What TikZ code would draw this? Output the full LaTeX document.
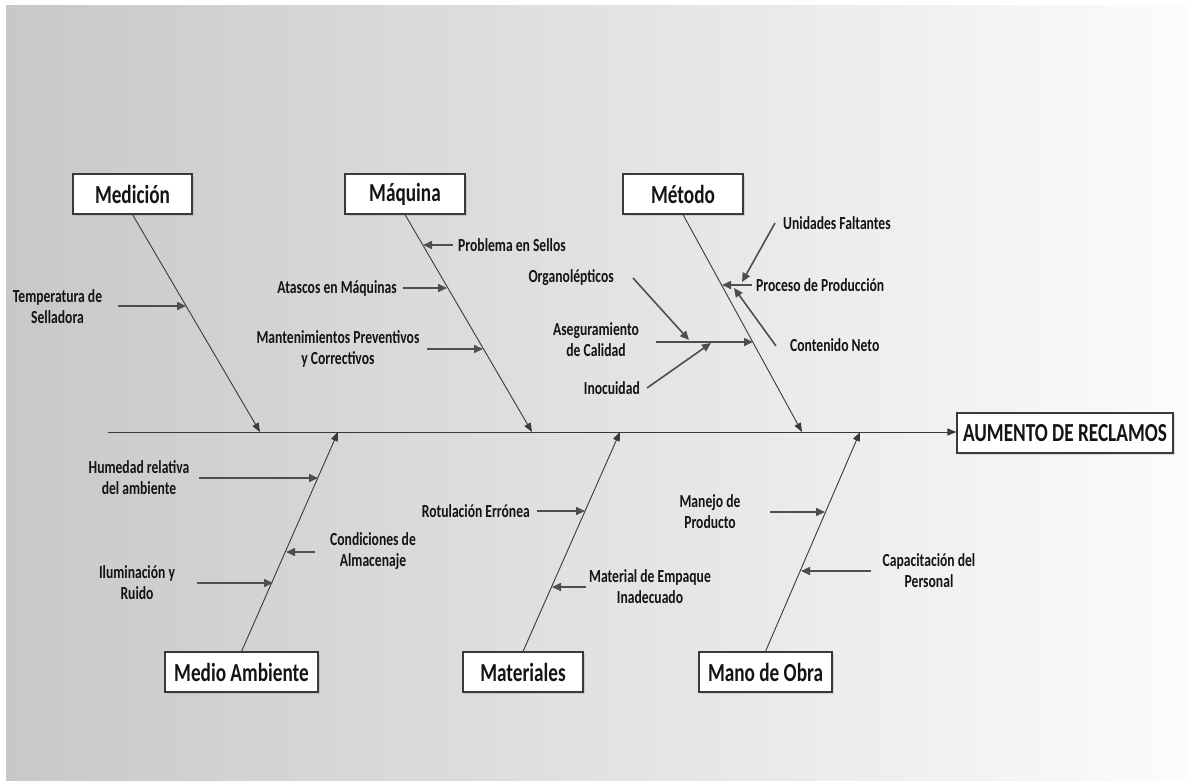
\documentclass[tikz,border=0pt]{standalone}
\usepackage{fontspec}
\setmainfont{Carlito}[FakeStretch=0.74]
\usetikzlibrary{arrows.meta,shadows}
\definecolor{ink}{HTML}{3A3A3A}
\definecolor{cause}{HTML}{4E4E4E}
\definecolor{bgleft}{HTML}{C8C8C8}
\definecolor{bgright}{HTML}{FCFCFC}
\definecolor{txt}{HTML}{141414}
\begin{document}
\begin{tikzpicture}[x=1pt,y=-1pt,
  catbox/.style={draw=ink, line width=1.1pt, fill=white, minimum height=40pt,
    inner sep=0pt, text=txt, font=\bfseries\fontsize{26}{30}\selectfont,
    drop shadow={opacity=0.25, shadow xshift=1.5pt, shadow yshift=-1.5pt}},
  lbl/.style={font=\bfseries\fontsize{18.4}{21}\selectfont, inner sep=0pt,
    align=center, text=txt},
  bone/.style={draw=ink, line width=0.9pt, -{Triangle[length=9pt,width=7pt]}},
  rib/.style={draw=cause, line width=1.6pt, -{Triangle[length=9pt,width=8pt]}}]
\useasboundingbox (0,0) rectangle (1187,780);
% background
\shade[left color=bgleft, right color=bgright] (6,5) rectangle (1187,780);

% effect and spine
\node[catbox, minimum width=216pt] (eff) at (1065,433) {AUMENTO DE RECLAMOS};
\coordinate (tail) at (108,432);
\draw[bone] (tail) -- (eff.west |- tail);

% category boxes
\node[catbox, minimum width=119pt] (med) at (132.5,194) {Medición};
\node[catbox, minimum width=120pt] (maq) at (405,194) {Máquina};
\node[catbox, minimum width=120pt] (met) at (683,194) {Método};
\node[catbox, minimum width=153pt] (amb) at (241.5,672) {Medio Ambiente};
\node[catbox, minimum width=120pt] (mat) at (523,672) {Materiales};
\node[catbox, minimum width=133pt] (mob) at (765.5,672) {Mano de Obra};

% points where the bones meet the spine
\coordinate (medS) at (260,432);
\coordinate (maqS) at (532,432);
\coordinate (metS) at (802,432);
\coordinate (ambS) at (338,432);
\coordinate (matS) at (620,432);
\coordinate (mobS) at (860,432);

\draw[bone] (med.south) -- (medS);
\draw[bone] (maq.south) -- (maqS);
\draw[bone] (met.south) -- (metS);
\draw[bone] (amb.north) -- (ambS);
\draw[bone] (mat.north) -- (matS);
\draw[bone] (mob.north) -- (mobS);

% --- Medición
\node[lbl] (l1) at (57.5,306.5) {Temperatura de\\Selladora};
\coordinate (t1) at (118,306); \coordinate (h1) at (186,306);
\draw[rib] (t1) -- (h1);

% --- Máquina
\node[lbl, anchor=west] (l2) at (458,245) {Problema en Sellos};
\coordinate (t2) at (453,245); \coordinate (h2) at (423,245);
\draw[rib] (t2) -- (h2);
\node[lbl, anchor=east] (l3) at (397,288) {Atascos en Máquinas};
\coordinate (t3) at (403,288); \coordinate (h3) at (447,288);
\draw[rib] (t3) -- (h3);
\node[lbl] (l4) at (338,349) {Mantenimientos Preventivos\\y Correctivos};
\coordinate (t4) at (427,349); \coordinate (h4) at (483,349);
\draw[rib] (t4) -- (h4);

% --- Método
\node[lbl, anchor=west] (l5) at (783,223) {Unidades Faltantes};
\coordinate (t5) at (775,223); \coordinate (h5) at (742,282);
\draw[rib] (t5) -- (h5);
\node[lbl, anchor=west] (l6) at (756,285) {Proceso de Producción};
\coordinate (t6) at (752,285); \coordinate (h6) at (722,285);
\draw[rib] (t6) -- (h6);
\node[lbl, anchor=west] (l7) at (790,345) {Contenido Neto};
\coordinate (t7) at (776,346); \coordinate (h7) at (734,288);
\draw[rib] (t7) -- (h7);
\node[lbl] (l8) at (596,340) {Aseguramiento\\de Calidad};
\coordinate (t8) at (656,342); \coordinate (h8) at (753,342);
\draw[rib] (t8) -- (h8);
\node[lbl, anchor=east] (l9) at (614,278) {Organolépticos};
\coordinate (t9) at (633,278); \coordinate (h9) at (689,340);
\draw[rib] (t9) -- (h9);
\node[lbl, anchor=east] (l10) at (640,388) {Inocuidad};
\coordinate (t10) at (647,388); \coordinate (h10) at (711,343);
\draw[rib] (t10) -- (h10);

% --- Medio Ambiente
\node[lbl] (l11) at (139,477.5) {Humedad relativa\\del ambiente};
\coordinate (t11) at (199,478); \coordinate (h11) at (318,478);
\draw[rib] (t11) -- (h11);
\node[lbl] (l12) at (373,551.5) {Condiciones de\\Almacenaje};
\coordinate (t12) at (315,552); \coordinate (h12) at (286,552);
\draw[rib] (t12) -- (h12);
\node[lbl] (l13) at (137,582.5) {Iluminación y\\Ruido};
\coordinate (t13) at (197,583); \coordinate (h13) at (273,583);
\draw[rib] (t13) -- (h13);

% --- Materiales
\node[lbl, anchor=east] (l14) at (530,511) {Rotulación Errónea};
\coordinate (t14) at (537,511); \coordinate (h14) at (585,511);
\draw[rib] (t14) -- (h14);
\node[lbl] (l15) at (650,586.5) {Material de Empaque\\Inadecuado};
\coordinate (t15) at (586,587); \coordinate (h15) at (552,587);
\draw[rib] (t15) -- (h15);

% --- Mano de Obra
\node[lbl] (l16) at (710,512) {Manejo de\\Producto};
\coordinate (t16) at (770,512); \coordinate (h16) at (825,512);
\draw[rib] (t16) -- (h16);
\node[lbl] (l17) at (929,570.5) {Capacitación del\\Personal};
\coordinate (t17) at (871,571); \coordinate (h17) at (801,571);
\draw[rib] (t17) -- (h17);
\end{tikzpicture}
\end{document}
